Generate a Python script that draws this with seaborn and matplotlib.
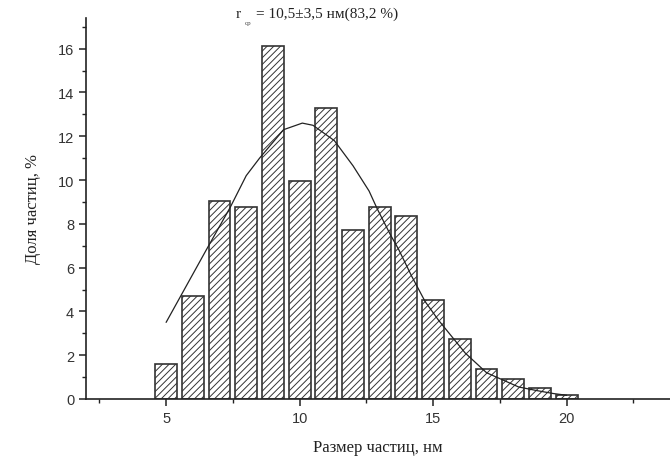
import numpy as np
import pandas as pd
import matplotlib
matplotlib.use('Agg')
import matplotlib.pyplot as plt
import seaborn as sns
from matplotlib.ticker import MultipleLocator

# Гистограмма распределения частиц по размерам
sizes = [5, 6, 7, 8, 9, 10, 11, 12, 13, 14, 15, 16, 17, 18, 19, 20]
shares = [1.6, 4.7, 9.05, 8.75, 16.1, 9.95, 13.3, 7.7, 8.77, 8.36,
          4.53, 2.73, 1.38, 0.9, 0.49, 0.18]

# Точки аппроксимирующей кривой
curve_x = [5.0, 5.5, 6.5, 7.4, 8.0, 8.5, 9.4, 10.1, 10.5, 11.3, 12.0, 12.6,
           12.9, 13.4, 13.7, 14.2, 14.7, 15.2, 16.2, 17.0, 18.2, 18.9, 19.5, 20.0]
curve_y = [3.5, 4.6, 6.8, 8.75, 10.2, 11.0, 12.3, 12.6, 12.5, 11.8, 10.65, 9.5,
           8.7, 7.5, 6.85, 5.6, 4.45, 3.6, 2.1, 1.2, 0.55, 0.38, 0.25, 0.17]

x_label = 'Размер частиц, нм'
y_label = 'Доля частиц, %'
title_rest = '= 10,5±3,5 нм(83,2 %)'

sns.set_style('ticks')
plt.rcParams['hatch.linewidth'] = 0.7
plt.rcParams['font.family'] = ['Liberation Sans', 'DejaVu Sans']

fig = plt.figure(figsize=(6.7, 4.6), dpi=100)
ax = fig.add_axes([86 / 670, 60 / 460, (670 - 86) / 670, 381 / 460])

df = pd.DataFrame({'size': sizes, 'share': shares})
sns.barplot(data=df, x='size', y='share', native_scale=True, width=0.82,
            color='white', edgecolor='#333333', linewidth=1.2,
            hatch='/////', ax=ax)
for p in ax.patches:
    p.set_facecolor('white')
    p.set_edgecolor('#333333')

sns.lineplot(x=curve_x, y=curve_y, color='#222222', linewidth=0.9, ax=ax)

ax.set_xlim(2, 23.87)
ax.set_ylim(0, 17.4)
ax.xaxis.set_major_locator(MultipleLocator(5))
ax.xaxis.set_minor_locator(MultipleLocator(2.5))
ax.yaxis.set_major_locator(MultipleLocator(2))
ax.yaxis.set_minor_locator(MultipleLocator(1))
ax.tick_params(which='major', direction='out', length=5, width=1.1,
               color='#222222', labelsize=10.5, labelcolor='#333333')
ax.tick_params(which='minor', direction='out', length=3, width=1.0,
               color='#222222')

sns.despine(ax=ax, top=True, right=True)
for s in ['left', 'bottom']:
    ax.spines[s].set_color('#222222')
    ax.spines[s].set_linewidth(1.2)

ax.set_xlabel(x_label, family='Liberation Serif', fontsize=12, color='#222222',
              labelpad=10)
ax.set_ylabel(y_label, family='Liberation Serif', fontsize=12, color='#222222',
              labelpad=12)

# Заголовок: r со индексом "ср"
fig.text(236 / 670, 1 - 14 / 460, 'r', family='Liberation Serif', fontsize=11,
         va='center', ha='left', color='#222222')
fig.text(245 / 670, 1 - 23 / 460, 'ср', family='Liberation Serif', fontsize=5,
         va='center', ha='left', color='#444444')
fig.text(256 / 670, 1 - 14 / 460, title_rest, family='Liberation Serif',
         fontsize=11, va='center', ha='left', color='#222222')

fig.savefig('out.png', dpi=100)
